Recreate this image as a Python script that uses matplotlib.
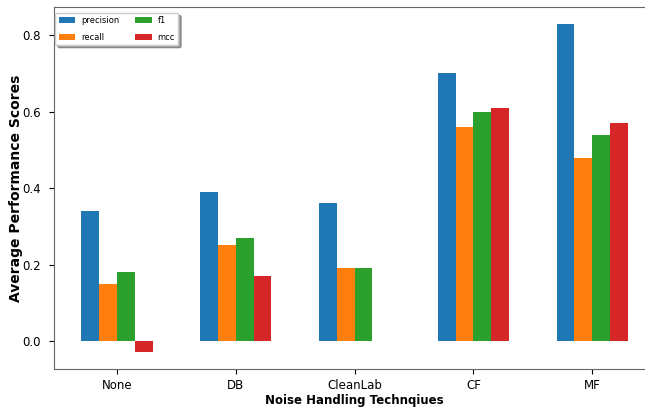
import matplotlib
matplotlib.use("Agg")
import matplotlib.pyplot as plt
import numpy as np

# average scores per noise handling technique
techniques = ["None", "DB", "CleanLab", "CF", "MF"]
precision = [0.34, 0.39, 0.36, 0.70, 0.83]
recall = [0.15, 0.25, 0.19, 0.56, 0.48]
f1 = [0.18, 0.27, 0.19, 0.60, 0.54]
mcc = [-0.03, 0.17, 0.0, 0.61, 0.57]

series = [("precision", precision), ("recall", recall), ("f1", f1), ("mcc", mcc)]
colors = ["#1f77b4", "#ff7f0e", "#2ca02c", "#d62728"]

fig = plt.figure(figsize=(6.45, 4.08), dpi=100)
ax = fig.add_axes([0.0837, 0.0958, 0.932, 0.8863])

x = np.arange(len(techniques))
width = 0.15
for i, ((name, vals), c) in enumerate(zip(series, colors)):
    ax.bar(x + (i - 1.5) * width, vals, width, label=name, color=c)

ax.set_xticks(x)
ax.set_xticklabels(techniques, fontsize=8.5)
ax.tick_params(axis="y", labelsize=8.5, pad=6)
ax.set_yticks([0.0, 0.2, 0.4, 0.6, 0.8])
ax.set_xlabel("Noise Handling Technqiues", fontsize=8.5, fontweight="bold", labelpad=1.5)
ax.set_ylabel("Average Performance Scores", fontsize=10, fontweight="bold")
ax.yaxis.set_label_coords(-0.052, 0.5)

for s in ax.spines.values():
    s.set_color("#666666")
# the plot runs past the right edge of the figure
ax.spines["right"].set_visible(False)

ax.legend(loc="upper left", bbox_to_anchor=(0.002, 0.985), borderaxespad=0,
          ncol=2, fontsize=6, shadow=True, handlelength=2.0,
          handletextpad=0.7, columnspacing=1.9, labelspacing=0.9)

fig.savefig("out.png", dpi=100)
